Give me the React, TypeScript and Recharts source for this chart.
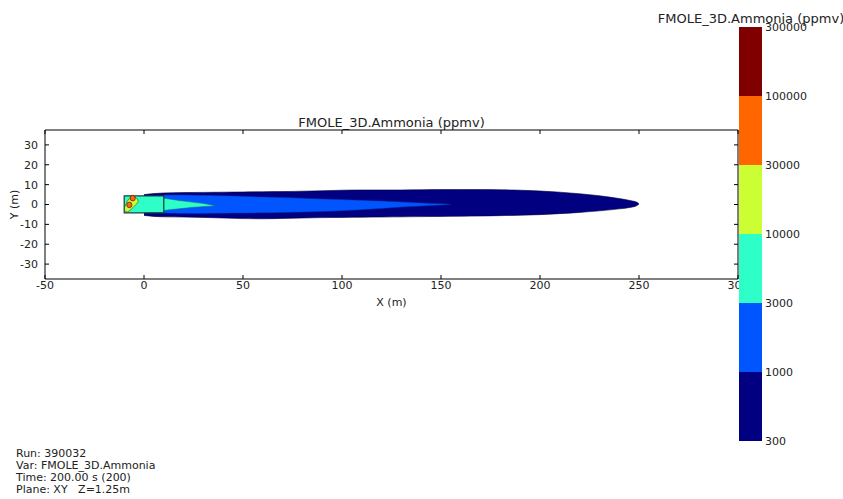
import {
  ComposedChart,
  Area,
  Scatter,
  XAxis,
  YAxis,
  ReferenceArea,
  BarChart,
  Bar,
} from 'recharts';

const FONT = '"DejaVu Sans", Verdana, sans-serif';

// contour levels (ppmv) and their jet colours, low to high
const LEVELS = ['300', '1000', '3000', '10000', '30000', '100000', '300000'];
const BAND_COLORS = ['#000080', '#0055ff', '#2effc9', '#ccff33', '#ff6600', '#800000'];

const X_TICKS = [-50, 0, 50, 100, 150, 200, 250, 300];
const Y_TICKS = [-30, -20, -10, 0, 10, 20, 30];

// 300 ppmv contour: downwind distance and lower / upper edge (m)
const N300_X = [0, 5, 10, 20, 30, 40, 50, 60, 70, 80, 90, 100, 110, 120, 130, 140, 150, 160, 170, 180, 190, 200, 210, 220, 230, 240, 246, 249, 250];
const N300_LO = [-5.5, -6, -6.2, -6.3, -6.5, -6.8, -7.1, -7.2, -7.0, -6.8, -6.6, -6.5, -6.4, -6.3, -6.2, -6.1, -6.0, -5.9, -5.8, -5.6, -5.4, -5.1, -4.6, -4.0, -3.2, -2.2, -1.4, -0.5, 0.3];
const N300_HI = [5, 5.5, 5.8, 6.0, 6.1, 6.2, 6.3, 6.4, 6.5, 6.7, 6.9, 7.2, 7.3, 7.3, 7.3, 7.4, 7.5, 7.5, 7.5, 7.4, 7.2, 6.8, 6.2, 5.4, 4.4, 3.0, 1.9, 1.1, 0.3];

// 1000 ppmv contour
const N1000_X = [10, 20, 30, 40, 50, 60, 70, 80, 90, 100, 110, 120, 130, 140, 150, 155];
const N1000_LO = [-4.3, -4.5, -4.5, -4.4, -4.3, -4.2, -4.0, -3.8, -3.5, -3.1, -2.6, -2.0, -1.3, -0.8, -0.3, 0.1];
const N1000_HI = [4.8, 4.8, 4.6, 4.4, 4.1, 3.8, 3.5, 3.2, 2.8, 2.5, 2.1, 1.7, 1.3, 0.8, 0.4, 0.1];

// 3000 ppmv: source enclosure and the jet leaving it
const N3000_BOX_X = [-10, 10];
const N3000_BOX_LO = [-4.2, -4.2];
const N3000_BOX_HI = [4.3, 4.3];
const N3000_X = [10, 15, 20, 25, 30, 36];
const N3000_LO = [-3.0, -2.4, -1.9, -1.4, -1.0, -0.6];
const N3000_HI = [3.2, 2.4, 1.7, 1.1, 0.5, -0.6];

// 10000 ppmv pocket inside the enclosure
const N10000_X = [-9.5, -8.5, -7.5, -6.5, -5.5, -4.5, -3.5, -2.8];
const N10000_LO = [-3.3, -3.8, -3.2, -2.4, -1.5, -0.5, 0.6, 1.6];
const N10000_HI = [-1.0, 1.5, 2.8, 3.6, 3.9, 3.6, 2.8, 1.6];

// 30000 ppmv spots
const N30000_X = [-5.7, -7.4];
const N30000_Y = [3.2, -0.2];

const INFO_LINES = ['Run: 390032', 'Var: FMOLE_3D.Ammonia', 'Time: 200.00 s (200)', 'Plane: XY   Z=1.25m'];

// merge all contours onto one x-sorted table, one range key per contour
function buildTable() {
  const rows = new Map<number, Record<string, any>>();
  const put = (key: string, xs: number[], lo: number[], hi: number[]) => {
    xs.forEach((x, i) => {
      const row = rows.get(x) ?? { x };
      row[key] = [lo[i], hi[i]];
      rows.set(x, row);
    });
  };
  put('n300', N300_X, N300_LO, N300_HI);
  put('n1000', N1000_X, N1000_LO, N1000_HI);
  put('box', N3000_BOX_X, N3000_BOX_LO, N3000_BOX_HI);
  put('n3000', N3000_X, N3000_LO, N3000_HI);
  put('n10000', N10000_X, N10000_LO, N10000_HI);
  return [...rows.values()].sort((a, b) => a.x - b.x);
}

const tableData = buildTable();
const spotData = N30000_X.map((x, i) => ({ x, y: N30000_Y[i] }));
const colorbarData = [{ name: 'cb', b0: 1, b1: 1, b2: 1, b3: 1, b4: 1, b5: 1 }];

const tickStyle = { fontSize: 11, fill: '#222', fontFamily: FONT };

function Spot(props: any) {
  const { cx, cy } = props;
  return <ellipse cx={cx} cy={cy} rx={2.6} ry={2.8} fill={BAND_COLORS[4]} stroke="#3a2a10" strokeWidth={0.7} />;
}

function PlumeChart() {
  return (
    <ComposedChart
      width={760}
      height={220}
      data={tableData}
      margin={{ top: 29, right: 21, left: 0, bottom: 11 }}
    >
      <XAxis
        dataKey="x"
        type="number"
        domain={[-50, 300]}
        ticks={X_TICKS}
        allowDataOverflow
        stroke="#000"
        tickSize={-4}
        tickMargin={6}
        tick={tickStyle}
        height={30}
        label={{ value: 'X (m)', position: 'insideBottom', offset: 3, fontSize: 11, fill: '#222', fontFamily: FONT }}
      />
      <XAxis
        xAxisId="top"
        orientation="top"
        dataKey="x"
        type="number"
        domain={[-50, 300]}
        ticks={X_TICKS}
        allowDataOverflow
        stroke="#000"
        tickSize={-4}
        tickFormatter={() => ''}
        height={1}
      />
      <YAxis
        type="number"
        domain={[-37.5, 37.5]}
        ticks={Y_TICKS}
        allowDataOverflow
        stroke="#000"
        tickSize={-4}
        tickMargin={11}
        tick={tickStyle}
        width={45}
        label={{ value: 'Y (m)', angle: -90, position: 'center', dx: -8, fontSize: 11, fill: '#222', fontFamily: FONT }}
      />
      <YAxis
        yAxisId="right"
        orientation="right"
        type="number"
        domain={[-37.5, 37.5]}
        ticks={Y_TICKS}
        allowDataOverflow
        stroke="#000"
        tickSize={-4}
        tickFormatter={() => ''}
        width={1}
      />
      <Area type="monotone" dataKey="n300" connectNulls fill={BAND_COLORS[0]} fillOpacity={1} stroke="#00003a" strokeWidth={0.6} isAnimationActive={false} />
      <Area type="monotone" dataKey="n1000" connectNulls fill={BAND_COLORS[1]} fillOpacity={1} stroke="#0030a0" strokeWidth={0.5} isAnimationActive={false} />
      <Area type="linear" dataKey="box" connectNulls fill={BAND_COLORS[2]} fillOpacity={1} stroke="none" isAnimationActive={false} />
      <Area type="monotone" dataKey="n3000" connectNulls fill={BAND_COLORS[2]} fillOpacity={1} stroke="#1b6e66" strokeWidth={0.5} isAnimationActive={false} />
      <ReferenceArea x1={-10} x2={10} y1={-4.2} y2={4.3} fill="none" stroke="#1d3d3a" strokeWidth={1.2} ifOverflow="visible" />
      <Area type="monotone" dataKey="n10000" connectNulls fill={BAND_COLORS[3]} fillOpacity={1} stroke="#4a5a20" strokeWidth={0.7} isAnimationActive={false} />
      <Scatter data={spotData} dataKey="y" shape={Spot} isAnimationActive={false} />
    </ComposedChart>
  );
}

function ColorBar() {
  return (
    <BarChart
      width={83}
      height={434}
      data={colorbarData}
      margin={{ top: 10, right: 0, left: 0, bottom: 10 }}
      barCategoryGap={0}
    >
      <XAxis dataKey="name" hide />
      <YAxis
        orientation="right"
        type="number"
        domain={[0, 6]}
        ticks={[0, 1, 2, 3, 4, 5, 6]}
        tickFormatter={(v: number) => LEVELS[v]}
        axisLine={false}
        tickLine={false}
        tickSize={0}
        tickMargin={3}
        tick={tickStyle}
        width={60}
      />
      {BAND_COLORS.map((c, i) => (
        <Bar key={i} dataKey={`b${i}`} stackId="cb" fill={c} isAnimationActive={false} />
      ))}
    </BarChart>
  );
}

export default function App() {
  const text = { position: 'absolute' as const, fontFamily: FONT, color: '#222', whiteSpace: 'pre' as const };
  return (
    <div style={{ position: 'absolute', left: 0, top: 0, width: 843, height: 499, overflow: 'hidden', background: '#fff' }}>
      <div style={{ ...text, left: 45, top: 115, width: 693, textAlign: 'center', fontSize: 13, lineHeight: '15px' }}>
        FMOLE_3D.Ammonia (ppmv)
      </div>
      <div style={{ position: 'absolute', left: 0, top: 100 }}>
        <PlumeChart />
      </div>
      <div style={{ ...text, left: 651, top: 11, width: 200, textAlign: 'center', fontSize: 13, lineHeight: '15px' }}>
        FMOLE_3D.Ammonia (ppmv)
      </div>
      <div style={{ position: 'absolute', left: 739, top: 17 }}>
        <ColorBar />
      </div>
      <div style={{ ...text, left: 16, top: 448, fontSize: 11, lineHeight: '12px' }}>
        {INFO_LINES.map((l) => (
          <div key={l}>{l}</div>
        ))}
      </div>
    </div>
  );
}
